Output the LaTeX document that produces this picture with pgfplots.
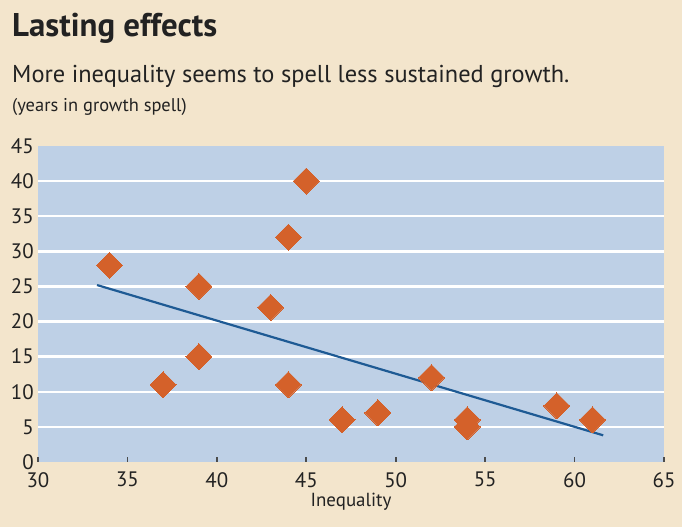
\documentclass[border=0pt]{standalone}
\usepackage{pgfplots}
\pgfplotsset{compat=1.18}
\usepackage{fontspec}
\setmainfont{PT Sans}
\definecolor{bg}{HTML}{F3E5CC}
\definecolor{plotbg}{HTML}{BED0E6}
\definecolor{dia}{HTML}{D4612A}
\definecolor{trend}{HTML}{1E5A94}
\definecolor{txt}{HTML}{222222}
\begin{document}
\begin{tikzpicture}[x=1bp,y=1bp]
\path[fill=bg, use as bounding box] (-38,-65) rectangle (644,462);
\node[anchor=base west, inner sep=0pt, text=txt] at (-26,425) {\fontsize{33}{33}\selectfont\bfseries Lasting effects};
\node[anchor=base west, inner sep=0pt, text=txt] at (-26,379) {\fontsize{24.5}{24.5}\selectfont More inequality seems to spell less sustained growth.};
\node[anchor=base west, inner sep=0pt, text=txt] at (-26,350) {\fontsize{18.5}{18.5}\selectfont (years in growth spell)};
\begin{axis}[
  at={(0,0)}, anchor=south west,
  scale only axis, width=626bp, height=316bp,
  xmin=30, xmax=65, ymin=0, ymax=45,
  axis background/.style={fill=plotbg},
  axis line style={draw=none},
  /pgf/number format/assume math mode=true,
  xtick={30,35,...,65}, ytick={0,5,...,45},
  extra y ticks={5,10,...,40}, extra y tick labels={},
  extra y tick style={grid=major, major tick length=0pt},
  grid style={white, line width=2.4bp},
  ytick style={draw=none},
  xtick pos=bottom, tick align=inside,
  xtick style={draw=black!70, line width=1.6bp},
  major tick length=5bp,
  ticklabel style={font=\fontsize{21}{21}\selectfont, text=txt},
  yticklabel style={inner sep=0pt, xshift=-4bp},
  xticklabel style={inner sep=0pt, yshift=-10bp},
  xlabel={Inequality},
  xlabel style={font=\fontsize{19}{19}\selectfont, text=txt, inner sep=0pt, yshift=-6bp},
  clip=false,
]
\addplot[trend, line width=2.2bp] coordinates {(33.3,25.2) (61.6,3.8)};
\addplot[only marks, mark=square*, mark size=9.2bp, mark options={rotate=45, fill=dia, draw=dia, line width=0pt}] coordinates {
(34,28) (37,11) (39,25) (39,15) (43,22) (44,32) (44,11) (45,40)
(47,6) (49,7) (52,12) (54,6) (54,5) (59,8) (61,6)
};
\end{axis}
\end{tikzpicture}
\end{document}
